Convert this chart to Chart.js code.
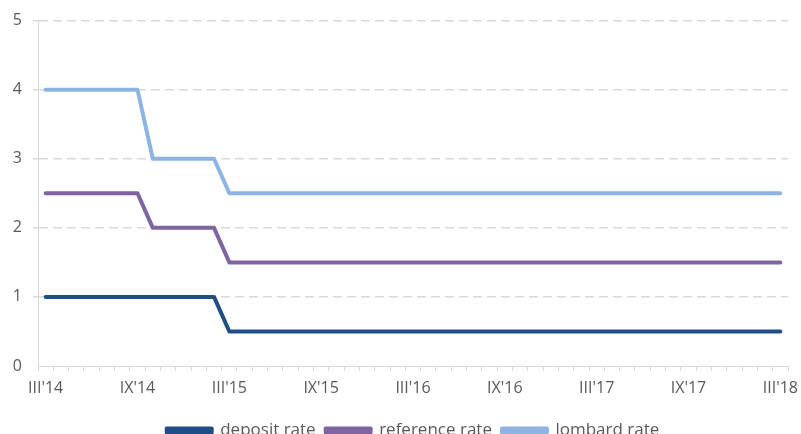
<!DOCTYPE html>
<html>
<head>
<meta charset="utf-8">
<script src="https://cdn.jsdelivr.net/npm/chart.js@4"></script>
<style>
  html, body { margin: 0; padding: 0; background: #fff; overflow: hidden; }
  #wrap { width: 801px; height: 449px; position: relative; }
</style>
</head>
<body>
<div id="wrap"><canvas id="c" width="801" height="449"></canvas></div>
<script>
const months = [
  "III'14","IV'14","V'14","VI'14","VII'14","VIII'14","IX'14","X'14","XI'14","XII'14",
  "I'15","II'15","III'15","IV'15","V'15","VI'15","VII'15","VIII'15","IX'15","X'15","XI'15","XII'15",
  "I'16","II'16","III'16","IV'16","V'16","VI'16","VII'16","VIII'16","IX'16","X'16","XI'16","XII'16",
  "I'17","II'17","III'17","IV'17","V'17","VI'17","VII'17","VIII'17","IX'17","X'17","XI'17","XII'17",
  "I'18","II'18","III'18"
];
const depositRate = [
  1,1,1,1,1,1,1,1,1,1,
  1,1,0.5,0.5,0.5,0.5,0.5,0.5,0.5,0.5,0.5,0.5,
  0.5,0.5,0.5,0.5,0.5,0.5,0.5,0.5,0.5,0.5,0.5,0.5,
  0.5,0.5,0.5,0.5,0.5,0.5,0.5,0.5,0.5,0.5,0.5,0.5,
  0.5,0.5,0.5
];
const referenceRate = [
  2.5,2.5,2.5,2.5,2.5,2.5,2.5,2,2,2,
  2,2,1.5,1.5,1.5,1.5,1.5,1.5,1.5,1.5,1.5,1.5,
  1.5,1.5,1.5,1.5,1.5,1.5,1.5,1.5,1.5,1.5,1.5,1.5,
  1.5,1.5,1.5,1.5,1.5,1.5,1.5,1.5,1.5,1.5,1.5,1.5,
  1.5,1.5,1.5
];
const lombardRate = [
  4,4,4,4,4,4,4,3,3,3,
  3,3,2.5,2.5,2.5,2.5,2.5,2.5,2.5,2.5,2.5,2.5,
  2.5,2.5,2.5,2.5,2.5,2.5,2.5,2.5,2.5,2.5,2.5,2.5,
  2.5,2.5,2.5,2.5,2.5,2.5,2.5,2.5,2.5,2.5,2.5,2.5,
  2.5,2.5,2.5
];
const seriesNames = ["deposit rate", "reference rate", "lombard rate"];
const seriesColors = ["#1f4e86", "#8064a2", "#8db4e2"];

const FONT = "'Open Sans', Lato, sans-serif";
const gridGray = "#d9d9d9";
const textGray = "#595959";

function ds(label, data, color) {
  return {
    label, data,
    borderColor: color, backgroundColor: color,
    borderWidth: 4, pointRadius: 0, tension: 0,
    borderCapStyle: 'round', borderJoinStyle: 'round'
  };
}

new Chart(document.getElementById('c'), {
  type: 'line',
  data: {
    labels: months,
    datasets: [
      ds(seriesNames[0], depositRate, seriesColors[0]),
      ds(seriesNames[1], referenceRate, seriesColors[1]),
      ds(seriesNames[2], lombardRate, seriesColors[2])
    ]
  },
  options: {
    responsive: false,
    animation: false,
    layout: { padding: { top: 20, right: 13, left: 0, bottom: 0 } },
    plugins: {
      legend: {
        position: 'bottom',
        fullSize: false,
        labels: {
          boxWidth: 45, boxHeight: 4, padding: 10,
          color: textGray,
          font: { family: FONT, size: 17 }
        }
      },
      tooltip: { enabled: false }
    },
    scales: {
      x: {
        offset: true,
        grid: { offset: true, drawOnChartArea: false, drawTicks: true, tickLength: 5, color: gridGray },
        border: { color: gridGray, width: 1 },
        ticks: {
          autoSkip: false, maxRotation: 0, padding: 8,
          color: textGray, font: { family: FONT, size: 16 },
          callback: function(v, i) { return i % 6 === 0 ? months[i] : ''; }
        },
        afterFit: s => { s.height = 46; s.paddingLeft = 0; s.paddingRight = 0; }
      },
      y: {
        min: 0, max: 5,
        grid: {
          color: ctx => ctx.tick && ctx.tick.value === 0 ? 'rgba(0,0,0,0)' : gridGray,
          tickLength: 5, lineWidth: 1.5
        },
        border: { color: gridGray, width: 1, dash: [9, 5] },
        ticks: {
          stepSize: 1, padding: 11,
          color: textGray, font: { family: FONT, size: 16 }
        },
        afterFit: s => { s.width = 38; }
      }
    }
  }
});
</script>
</body>
</html>
